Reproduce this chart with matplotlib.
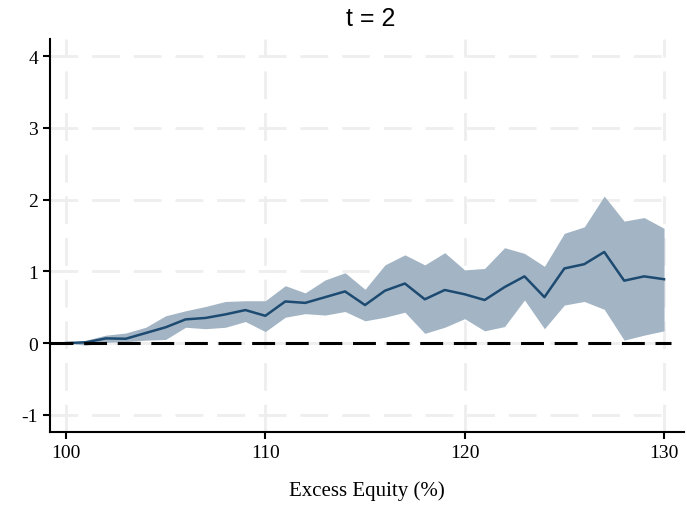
import numpy as np
import matplotlib.pyplot as plt

# Excess equity grid (%)
excess = np.arange(100, 131)

# point estimate
coef = [0.00, 0.01, 0.065, 0.06, 0.14, 0.22, 0.33, 0.35, 0.40, 0.46, 0.38,
        0.58, 0.56, 0.64, 0.72, 0.53, 0.73, 0.83, 0.61, 0.74, 0.68,
        0.60, 0.78, 0.93, 0.64, 1.04, 1.10, 1.27, 0.87, 0.93, 0.89]

# confidence band
upper = [0.00, 0.04, 0.11, 0.14, 0.22, 0.38, 0.45, 0.51, 0.58, 0.59, 0.59,
         0.80, 0.70, 0.88, 0.98, 0.75, 1.09, 1.23, 1.09, 1.26, 1.02,
         1.04, 1.33, 1.25, 1.07, 1.53, 1.62, 2.05, 1.70, 1.75, 1.60]
lower = [0.00, -0.03, 0.01, 0.02, 0.04, 0.05, 0.22, 0.20, 0.22, 0.30, 0.16,
         0.36, 0.41, 0.39, 0.44, 0.31, 0.36, 0.43, 0.135, 0.22, 0.34,
         0.17, 0.23, 0.60, 0.20, 0.53, 0.58, 0.47, 0.04, 0.11, 0.17]

xticks = [100, 110, 120, 130]
yticks = [-1, 0, 1, 2, 3, 4]

serif = ['Liberation Serif', 'DejaVu Serif']
sans = ['Liberation Sans Narrow', 'Liberation Sans', 'DejaVu Sans']

fig = plt.figure(figsize=(6.87, 5.06), dpi=100)
ax = fig.add_axes([0.0728, 0.1443, 0.9228, 0.7767])

xmin, xmax = 99.2, 131.0
ymin, ymax = -1.24, 4.24
grid_end = 130.35

# light dashed grid
for xv in xticks:
    ax.axvline(xv, color='#eeeeee', lw=2, dashes=(10, 5), zorder=0)
ax.hlines(yticks, xmin, grid_end, color='#eeeeee', lw=2, linestyles=(0, (10, 5)), zorder=0)

ax.fill_between(excess, lower, upper, color='#a3b5c5', lw=0, zorder=2)
ax.plot(excess, coef, color='#1d4a70', lw=1.8, zorder=3)
ax.hlines(0, xmin, grid_end, color='black', lw=2.2, linestyles=(0, (7.5, 3.5)), zorder=4)

ax.set_xlim(xmin, xmax)
ax.set_ylim(ymin, ymax)
ax.set_xticks(xticks)
ax.set_yticks(yticks)
ax.set_xticklabels([str(v) for v in xticks], family=serif, fontsize=14)
ax.set_yticklabels([str(v) for v in yticks], family=serif, fontsize=14)
ax.tick_params(direction='out', length=5, width=1.5, color='black')

for side in ['top', 'right']:
    ax.spines[side].set_visible(False)
for side in ['left', 'bottom']:
    ax.spines[side].set_linewidth(1.5)

ax.set_xlabel('Excess Equity (%)', family=serif, fontsize=15, labelpad=14)
fig.text(0.54, 0.963, 't = 2', family=sans, fontsize=18, ha='center', va='center')

fig.savefig('out.png', dpi=100)
